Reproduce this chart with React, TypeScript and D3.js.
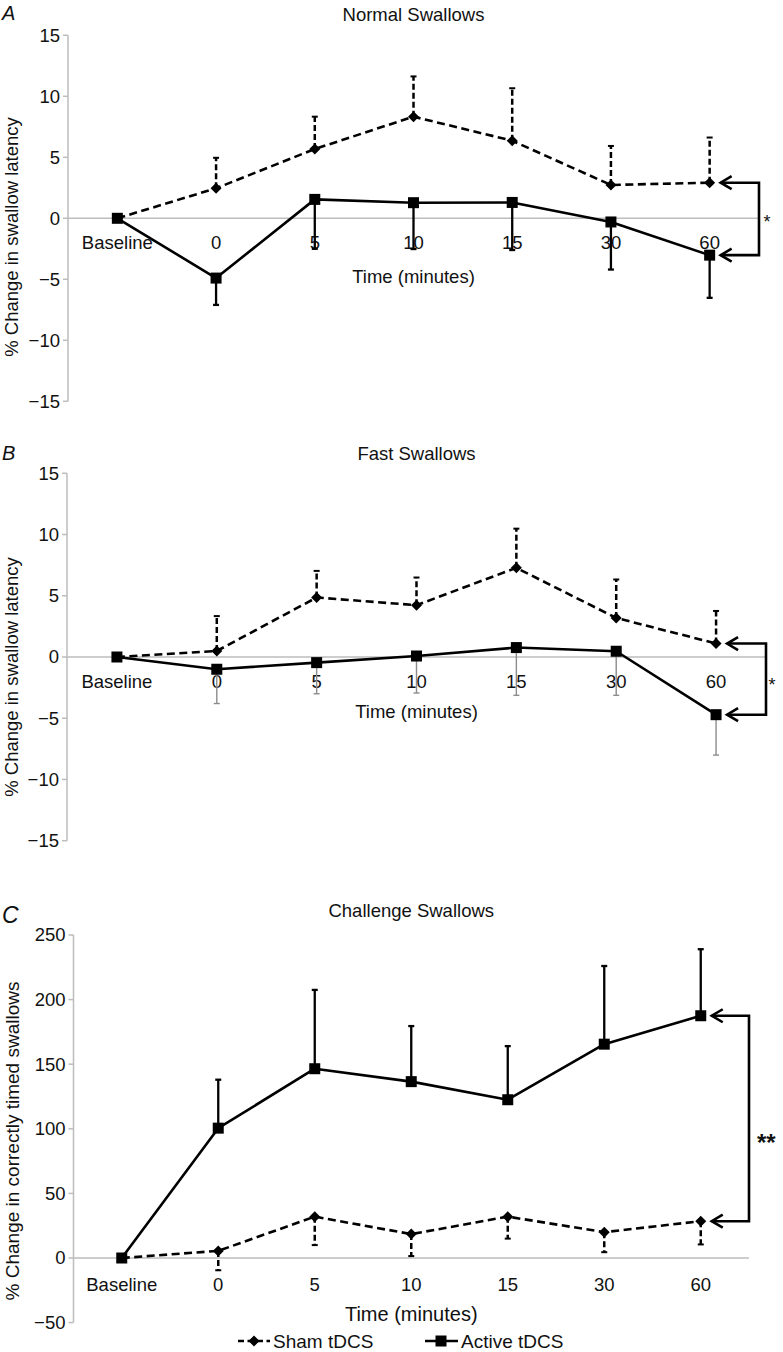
import React from 'react';
import * as d3 from 'd3';

const categories = ['Baseline', '0', '5', '10', '15', '30', '60'];

// Panel A – Normal swallows (% change in swallow latency)
const shamA = [0, 2.46, 5.68, 8.33, 6.36, 2.73, 2.92];
const shamAErr = [0, 2.5, 2.65, 3.3, 4.3, 3.2, 3.7];
const activeA = [0, -4.9, 1.55, 1.28, 1.3, -0.3, -3.02];
const activeAErr = [0, 2.2, 4.05, 3.8, 3.9, 3.9, 3.5];

// Panel B – Fast swallows
const shamB = [0, 0.49, 4.86, 4.23, 7.28, 3.19, 1.1];
const shamBErr = [0, 2.85, 2.17, 2.26, 3.2, 3.14, 2.66];
const activeB = [0, -1.0, -0.46, 0.08, 0.77, 0.47, -4.71];
const activeBErr = [0, 2.8, 2.54, 3.02, 3.9, 3.6, 3.3];

// Panel C – Challenge swallows (% change in correctly timed swallows)
const shamC = [0, 5.5, 32, 18.5, 32, 20, 28.5];
const shamCErr = [0, 15, 22, 17, 17, 15.5, 18];
const activeC = [0, 100.5, 146.5, 136.5, 122.5, 165.5, 187.5];
const activeCErr = [0, 37.5, 61, 43, 41.5, 60.5, 51.5];

const ticksLatency = [-15, -10, -5, 0, 5, 10, 15];
const ticksChallenge = [-50, 0, 50, 100, 150, 200, 250];

const legendLabels = ['Sham tDCS', 'Active tDCS'];

const FONT = '"Liberation Sans", Arial, Helvetica, sans-serif';
const AXIS_GREY = '#bdbdbd';

type Panel = {
  letter: string;
  title: string;
  yTitle: string;
  yDomain: [number, number];
  yRange: [number, number];
  xRange: [number, number];
  yTicks: number[];
  sham: number[];
  shamErr: number[];
  shamDir: number;
  active: number[];
  activeErr: number[];
  activeDir: number;
  activeErrGrey: boolean;
  letterY: number;
  letterSize: number;
  titleY: number;
  yTitlePos: [number, number];
  yTitleSize: number;
  catDy: number;
  xTitleDy: number;
  xTitleSize: number;
  sig: string;
  sigSize: number;
  sigBold: boolean;
  sigX: number;
  sigAnchor: string;
  sigDy: number;
};

const panels: Panel[] = [
  {
    letter: 'A', title: 'Normal Swallows', yTitle: '% Change in swallow latency',
    yDomain: [-15, 15], yRange: [401.3, 35.3], xRange: [68, 759], yTicks: ticksLatency,
    sham: shamA, shamErr: shamAErr, shamDir: 1, active: activeA, activeErr: activeAErr, activeDir: -1,
    activeErrGrey: false, letterY: 20, letterSize: 20, titleY: 21, yTitlePos: [12, 237], yTitleSize: 18.5,
    catDy: 31, xTitleDy: 65, xTitleSize: 18.5, sig: '*', sigSize: 18, sigBold: false, sigX: 767, sigAnchor: 'middle', sigDy: 9,
  },
  {
    letter: 'B', title: 'Fast Swallows', yTitle: '% Change in swallow latency',
    yDomain: [-15, 15], yRange: [840.7, 473.3], xRange: [67, 766], yTicks: ticksLatency,
    sham: shamB, shamErr: shamBErr, shamDir: 1, active: activeB, activeErr: activeBErr, activeDir: -1,
    activeErrGrey: true, letterY: 460, letterSize: 20, titleY: 459.5, yTitlePos: [12, 677], yTitleSize: 18.5,
    catDy: 31, xTitleDy: 61, xTitleSize: 18.5, sig: '*', sigSize: 18, sigBold: false, sigX: 772, sigAnchor: 'middle', sigDy: 12,
  },
  {
    letter: 'C', title: 'Challenge Swallows', yTitle: '% Change in correctly timed swallows',
    yDomain: [-50, 250], yRange: [1322.6, 935], xRange: [73.5, 749], yTicks: ticksChallenge,
    sham: shamC, shamErr: shamCErr, shamDir: -1, active: activeC, activeErr: activeCErr, activeDir: 1,
    activeErrGrey: false, letterY: 923, letterSize: 23, titleY: 917, yTitlePos: [12, 1141], yTitleSize: 19,
    catDy: 33, xTitleDy: 63, xTitleSize: 20, sig: '**', sigSize: 24, sigBold: true, sigX: 757, sigAnchor: 'start', sigDy: 33,
  },
];

const diamondPath = (cx: number, cy: number, r = 5.5) =>
  `M${cx},${cy - r}L${cx + r},${cy}L${cx},${cy + r}L${cx - r},${cy}Z`;

function PanelView({ p }: { p: Panel }) {
  const x = d3.scalePoint<string>().domain(categories).range(p.xRange).padding(0.5);
  const y = d3.scaleLinear().domain(p.yDomain).range(p.yRange);
  const fmt = d3.format('d');
  const x0 = p.xRange[0];
  const x1 = p.xRange[1];
  const midX = (x0 + x1) / 2;
  const line = d3.line<number>().x((_, i) => x(categories[i]) as number).y((d) => y(d));
  const y0 = y(0);

  const lastIdx = categories.length - 1;
  const lastX = x(categories[lastIdx]) as number;
  const ySham = y(p.sham[lastIdx]);
  const yAct = y(p.active[lastIdx]);
  const yTop = Math.min(ySham, yAct);
  const yBot = Math.max(ySham, yAct);
  const tip = lastX + 11;
  const ah = 11;
  const aw = 6.5;

  return (
    <g>
      <text x={2} y={p.letterY} fontSize={p.letterSize} fontStyle="italic" fontFamily={FONT} fill="#111">{p.letter}</text>
      <text x={midX} y={p.titleY} fontSize={18.5} textAnchor="middle" fontFamily={FONT} fill="#111">{p.title}</text>
      {/* y axis */}
      <line x1={x0} x2={x0} y1={p.yRange[1]} y2={p.yRange[0]} stroke={AXIS_GREY} strokeWidth={1.5} />
      {p.yTicks.map((t) => (
        <g key={t}>
          <line x1={x0 - 5} x2={x0} y1={y(t)} y2={y(t)} stroke={AXIS_GREY} strokeWidth={1.5} />
          <text x={x0 - 8} y={y(t)} dy="0.35em" fontSize={18.5} textAnchor="end" fontFamily={FONT} fill="#111">{fmt(t)}</text>
        </g>
      ))}
      {/* zero line */}
      <line x1={x0} x2={x1} y1={y0} y2={y0} stroke={AXIS_GREY} strokeWidth={1.5} />
      {categories.map((c) => (
        <text key={c} x={x(c)} y={y0 + p.catDy} fontSize={18.5} textAnchor="middle" fontFamily={FONT} fill="#111">{c}</text>
      ))}
      <text x={midX} y={y0 + p.xTitleDy} fontSize={p.xTitleSize} textAnchor="middle" fontFamily={FONT} fill="#111">Time (minutes)</text>
      <text transform={`translate(${p.yTitlePos[0]},${p.yTitlePos[1]}) rotate(-90)`} dy="0.35em" fontSize={p.yTitleSize} textAnchor="middle" fontFamily={FONT} fill="#111">{p.yTitle}</text>

      {/* error bars sham (dashed) */}
      {p.sham.map((v, i) => {
        if (p.shamErr[i] === 0) return null;
        const cx = x(categories[i]) as number;
        const end = y(v + p.shamDir * p.shamErr[i]);
        return (
          <g key={'se' + i}>
            <line x1={cx} x2={cx} y1={y(v)} y2={end} stroke="#000" strokeWidth={2.5} strokeDasharray="6,3" />
            <line x1={cx - 3} x2={cx + 3} y1={end} y2={end} stroke="#000" strokeWidth={2} />
          </g>
        );
      })}
      {/* error bars active */}
      {p.active.map((v, i) => {
        if (p.activeErr[i] === 0) return null;
        const cx = x(categories[i]) as number;
        const end = y(v + p.activeDir * p.activeErr[i]);
        const col = p.activeErrGrey ? '#8c8c8c' : '#000';
        const w = p.activeErrGrey ? 1.4 : 2.3;
        return (
          <g key={'ae' + i}>
            <line x1={cx} x2={cx} y1={y(v)} y2={end} stroke={col} strokeWidth={w} />
            <line x1={cx - 3} x2={cx + 3} y1={end} y2={end} stroke={col} strokeWidth={w} />
          </g>
        );
      })}

      {/* lines */}
      <path d={line(p.active) || ''} fill="none" stroke="#000" strokeWidth={2.6} strokeLinejoin="round" />
      <path d={line(p.sham) || ''} fill="none" stroke="#000" strokeWidth={2.6} strokeDasharray="8,4.5" />

      {/* markers */}
      {p.active.map((v, i) => {
        const cx = x(categories[i]) as number;
        return <rect key={'am' + i} x={cx - 5.5} y={y(v) - 5.5} width={11} height={11} fill="#000" />;
      })}
      {p.sham.map((v, i) => {
        if (i === 0) return null;
        const cx = x(categories[i]) as number;
        return <path key={'sm' + i} d={diamondPath(cx, y(v))} fill="#000" />;
      })}

      {/* significance bracket */}
      <path d={`M${tip},${yTop}H${x1}V${yBot}H${tip}`} fill="none" stroke="#000" strokeWidth={2.6} />
      <path d={`M${tip + ah},${yTop - aw}L${tip},${yTop}L${tip + ah},${yTop + aw}`} fill="none" stroke="#000" strokeWidth={2.6} />
      <path d={`M${tip + ah},${yBot - aw}L${tip},${yBot}L${tip + ah},${yBot + aw}`} fill="none" stroke="#000" strokeWidth={2.6} />
      <text x={p.sigX} y={(yTop + yBot) / 2 + p.sigDy} fontSize={p.sigSize} fontWeight={p.sigBold ? 'bold' : 'normal'} textAnchor={p.sigAnchor as any} fontFamily={FONT} fill="#111">{p.sig}</text>
    </g>
  );
}

function Legend() {
  const ly = 1341;
  return (
    <g>
      <line x1={238} x2={270} y1={ly} y2={ly} stroke="#000" strokeWidth={2.6} strokeDasharray="6,3.5" />
      <path d={diamondPath(254, ly)} fill="#000" />
      <text x={273} y={ly + 6.5} fontSize={19} fontFamily={FONT} fill="#111">{legendLabels[0]}</text>
      <line x1={425} x2={458} y1={ly} y2={ly} stroke="#000" strokeWidth={2.6} />
      <rect x={441 - 5.5} y={ly - 5.5} width={11} height={11} fill="#000" />
      <text x={461} y={ly + 6.5} fontSize={19} fontFamily={FONT} fill="#111">{legendLabels[1]}</text>
    </g>
  );
}

export default function App() {
  return (
    <svg
      width={783}
      height={1352}
      viewBox="0 0 783 1352"
      style={{ position: 'absolute', left: 0, top: 0, background: '#fff' }}
    >
      <rect x={0} y={0} width={783} height={1352} fill="#fff" />
      {panels.map((p) => (
        <PanelView key={p.letter} p={p} />
      ))}
      <Legend />
    </svg>
  );
}
